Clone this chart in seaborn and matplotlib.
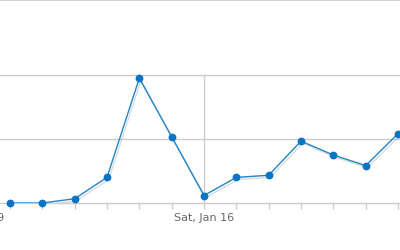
import matplotlib
matplotlib.use("Agg")
import matplotlib.pyplot as plt
import matplotlib.patheffects as pe
import matplotlib.transforms as mtransforms
import seaborn as sns
import pandas as pd
import numpy as np

days = ["2016-01-10", "2016-01-11", "2016-01-12", "2016-01-13", "2016-01-14",
        "2016-01-15", "2016-01-16", "2016-01-17", "2016-01-18", "2016-01-19",
        "2016-01-20", "2016-01-21", "2016-01-22"]
visits = [0, 0, 4, 24, 117, 62, 7, 24, 26, 58, 45, 35, 65]
label_days = ["2016-01-09", "2016-01-16"]
label_texts = ["Sat, Jan 9", "Sat, Jan 16"]
grid_values = [60, 120]

sns.set_style("white")
plt.rcParams['font.family'] = ['DejaVu Sans']

df = pd.DataFrame({"day": pd.to_datetime(days), "visits": visits})
base = pd.Timestamp("2016-01-10")
df["x"] = (df["day"] - base).dt.days
lab_x = [(pd.Timestamp(d) - base).days for d in label_days]

fig = plt.figure(figsize=(4, 2.5), dpi=100)
ax = fig.add_axes([0, 47/250, 1, 203/250])

for g in grid_values:
    ax.axhline(g, color="#cccccc", lw=1, zorder=0)
# vertical week line
ax.plot([lab_x[1], lab_x[1]], [0, grid_values[1]], color="#cccccc", lw=1, zorder=0)

line_color = "#1f86c8"
sns.lineplot(data=df, x="x", y="visits", ax=ax, color=line_color, lw=1,
             path_effects=[pe.SimpleLineShadow(offset=(1.2, -1.5), shadow_color="#999999", alpha=0.35), pe.Normal()],
             zorder=3)
ax.plot(df["x"], df["visits"], ls="none", marker="o", ms=4.6, color="#0a74c4",
        mec="#0a74c4", zorder=4, clip_on=False)

ymax = 203 / 64 * 60
ax.set_ylim(0, ymax)
ax.set_xlim(-10/32.33, 12 + 2/32.33)

ax.set_xticks(df["x"])
ax.set_xticklabels([])
ax.tick_params(axis="x", bottom=True, length=4, width=1, color="#cccccc", direction="out")
ax.tick_params(axis="y", left=False, labelleft=False)
ax.set_xlabel("")
ax.set_ylabel("")

for s in ["left", "right"]:
    ax.spines[s].set_visible(False)
ax.spines["bottom"].set_color("#cccccc")
ax.spines["top"].set_color("#cccccc")
ax.spines["bottom"].set_linewidth(1)
ax.spines["top"].set_linewidth(1.2)

trans = mtransforms.blended_transform_factory(ax.transData, ax.transAxes)
for lx, lt in zip(lab_x, label_texts):
    ax.text(lx, -0.05, lt, transform=trans, ha="center", va="top",
            fontsize=8, color="#666666", clip_on=False)

fig.savefig("out.png", dpi=100)
